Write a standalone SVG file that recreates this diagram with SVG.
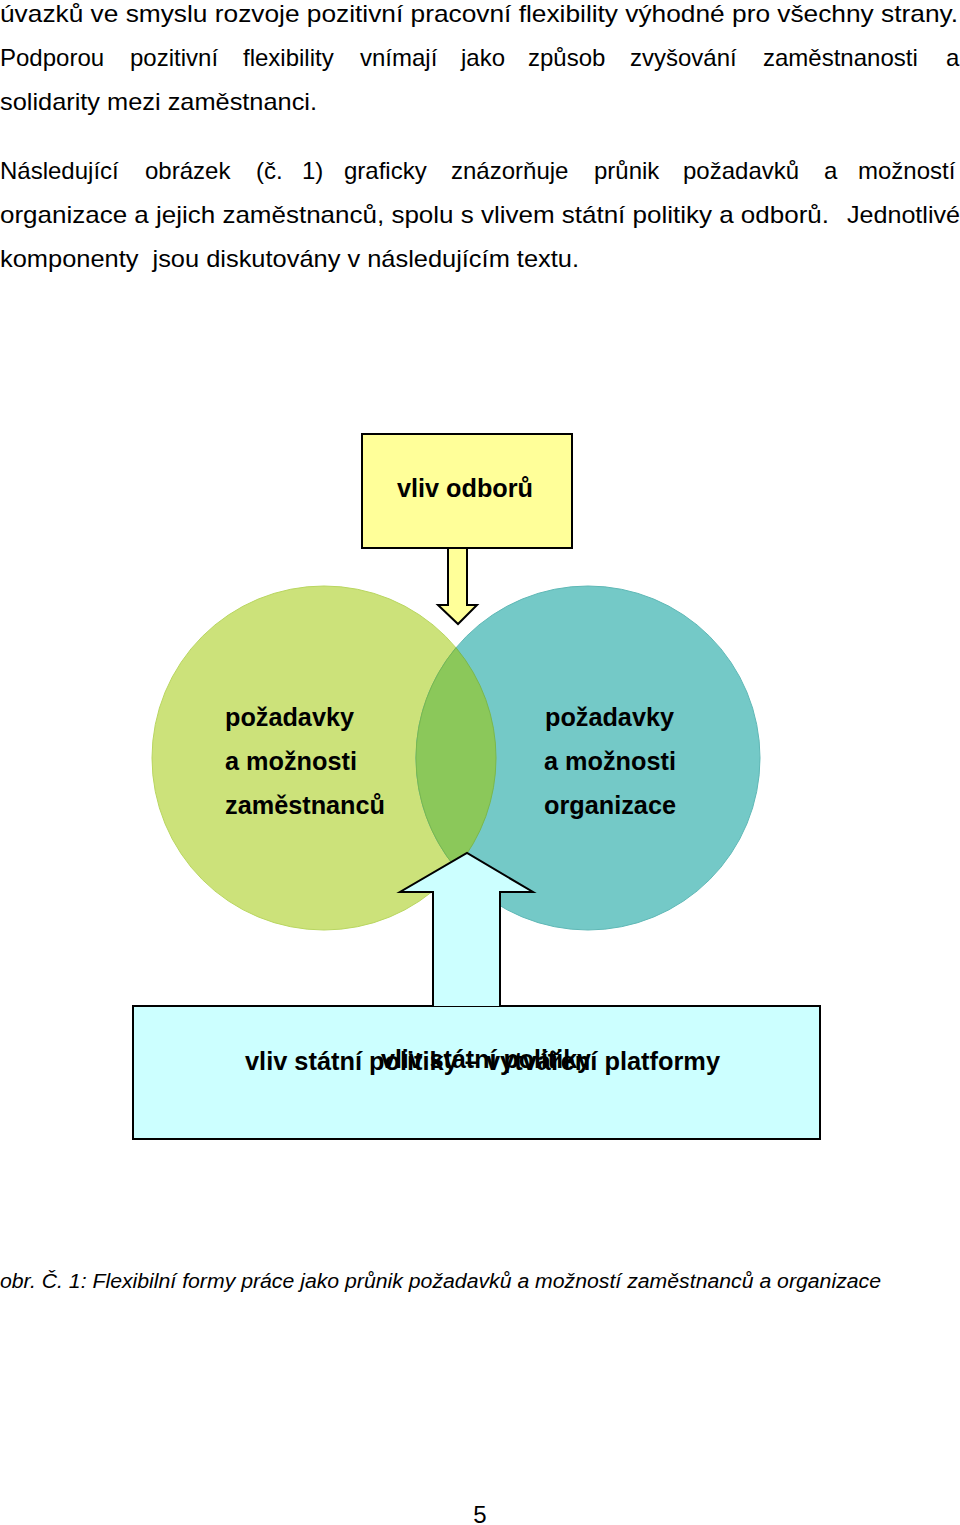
<svg xmlns="http://www.w3.org/2000/svg" width="960" height="1525" viewBox="0 0 960 1525">
<style>
.body{font-family:"Liberation Sans",Arial,sans-serif;font-size:24px;fill:#000}
.lbl{font-family:"Liberation Sans",Arial,sans-serif;font-size:25px;font-weight:bold;fill:#000}
.cap{font-family:"Liberation Sans",Arial,sans-serif;font-size:20px;font-style:italic;fill:#000}
.box{stroke:#000;stroke-width:2}
</style>
<rect width="960" height="1525" fill="#fff"/>
<g id="text-top">
<text class="body" x="0" y="22" textLength="958" lengthAdjust="spacingAndGlyphs">úvazků ve smyslu rozvoje pozitivní pracovní flexibility výhodné pro všechny strany.</text>
<text class="body" y="66"><tspan x="0">Podporou</tspan><tspan x="130">pozitivní</tspan><tspan x="243">flexibility</tspan><tspan x="360">vnímají</tspan><tspan x="461">jako</tspan><tspan x="528">způsob</tspan><tspan x="630">zvyšování</tspan><tspan x="763">zaměstnanosti</tspan><tspan x="946">a</tspan></text>
<text class="body" x="0" y="110" textLength="317" lengthAdjust="spacingAndGlyphs">solidarity mezi zaměstnanci.</text>
<text class="body" y="179"><tspan x="0">Následující</tspan><tspan x="145">obrázek</tspan><tspan x="256">(č.</tspan><tspan x="302">1)</tspan><tspan x="344">graficky</tspan><tspan x="451">znázorňuje</tspan><tspan x="594">průnik</tspan><tspan x="683">požadavků</tspan><tspan x="824">a</tspan><tspan x="858">možností</tspan></text>
<text class="body" x="0" y="223" textLength="829" lengthAdjust="spacingAndGlyphs">organizace a jejich zaměstnanců, spolu s vlivem státní politiky a odborů.</text>
<text class="body" x="847" y="223" textLength="113" lengthAdjust="spacingAndGlyphs">Jednotlivé</text>
<text class="body" x="0" y="267" textLength="579" lengthAdjust="spacingAndGlyphs" xml:space="preserve">komponenty  jsou diskutovány v následujícím textu.</text>
</g>
<g id="circle-employees">
<circle cx="324" cy="758" r="172" fill="#cce27a" stroke="#b9d660" stroke-width="1"/>
</g>
<g id="circle-organization">
<circle cx="588" cy="758" r="172" fill="#74c9c7" stroke="#5fb8b6" stroke-width="1"/>
</g>
<g id="overlap">
<path d="M456 647.7 A172 172 0 0 0 456 868.3 A172 172 0 0 0 456 647.7 Z" fill="#8bc85a" stroke="#7ab84c" stroke-width="1"/>
</g>
<g id="labels-circles">
<text class="lbl" x="225" y="726" textLength="129" lengthAdjust="spacingAndGlyphs">požadavky</text>
<text class="lbl" x="225" y="770" textLength="132" lengthAdjust="spacingAndGlyphs">a možnosti</text>
<text class="lbl" x="225" y="814" textLength="160" lengthAdjust="spacingAndGlyphs">zaměstnanců</text>
<text class="lbl" x="545" y="726" textLength="129" lengthAdjust="spacingAndGlyphs">požadavky</text>
<text class="lbl" x="544" y="770" textLength="132" lengthAdjust="spacingAndGlyphs">a možnosti</text>
<text class="lbl" x="544" y="814" textLength="132" lengthAdjust="spacingAndGlyphs">organizace</text>
</g>
<g id="node-unions">
<rect class="box" x="362" y="434" width="210" height="114" fill="#ffff99"/>
<text class="lbl" x="397" y="497" textLength="136" lengthAdjust="spacingAndGlyphs">vliv odborů</text>
</g>
<g id="node-state">
<rect class="box" x="133" y="1006" width="687" height="133" fill="#ccffff"/>
<text class="lbl" x="245" y="1070" textLength="475" lengthAdjust="spacingAndGlyphs">vliv státní politiky – vytváření platformy</text>
<text class="lbl" x="381" y="1068" textLength="210" lengthAdjust="spacingAndGlyphs">vliv státní politiky</text>
</g>
<g id="connectors">
<path d="M448 548 L467 548 L467 605 L477 605 L458 624 L438 605 L448 605 Z" fill="#ffff99" stroke="#000" stroke-width="2" stroke-linejoin="miter"/>
<path d="M433 1006 L433 892 L400 892 L467 853 L533 892 L500 892 L500 1006" fill="#ccffff" stroke="#000" stroke-width="2"/>
</g>
<g id="caption">
<text class="cap" x="0" y="1288" textLength="881" lengthAdjust="spacingAndGlyphs">obr. Č. 1: Flexibilní formy práce jako průnik požadavků a možností zaměstnanců a organizace</text>
<text class="body" x="480" y="1523" text-anchor="middle">5</text>
</g>
</svg>
